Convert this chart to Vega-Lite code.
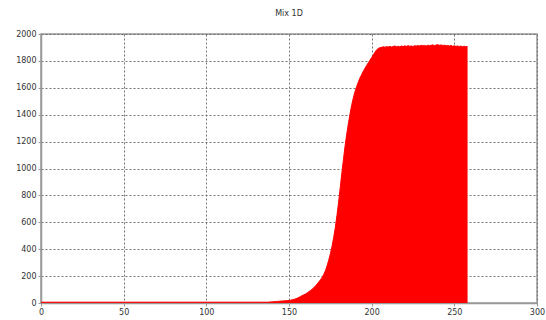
{
  "$schema": "https://vega.github.io/schema/vega-lite/v6.json",
  "autosize": {"type": "none"},
  "padding": {"left": 41, "top": 34, "right": 9, "bottom": 17},
  "width": 496,
  "height": 269,
  "background": "white",
  "title": {
    "text": "Mix 1D",
    "font": "DejaVu Sans",
    "fontSize": 8,
    "fontWeight": "normal",
    "color": "#333333",
    "anchor": "middle",
    "offset": 12
  },
  "config": {
    "view": {"stroke": "#999999", "strokeWidth": 1.5},
    "axis": {
      "labelFont": "DejaVu Sans",
      "labelFontSize": 8,
      "labelColor": "#333333",
      "domainColor": "#999999",
      "domainWidth": 1.5,
      "tickColor": "#999999",
      "tickSize": 3,
      "gridColor": "#666666",
      "gridDash": [2, 2],
      "gridWidth": 1,
      "gridOpacity": 0.9,
      "title": null
    }
  },
  "data": {
    "values": [
      {"t": 0, "v": 6}, {"t": 5, "v": 6}, {"t": 10, "v": 6}, {"t": 15, "v": 6}, {"t": 20, "v": 6},
      {"t": 25, "v": 6}, {"t": 30, "v": 6}, {"t": 35, "v": 6}, {"t": 40, "v": 6}, {"t": 45, "v": 6},
      {"t": 50, "v": 6}, {"t": 55, "v": 6}, {"t": 60, "v": 6}, {"t": 65, "v": 6}, {"t": 70, "v": 6},
      {"t": 75, "v": 6}, {"t": 80, "v": 6}, {"t": 85, "v": 6}, {"t": 90, "v": 6}, {"t": 95, "v": 6},
      {"t": 100, "v": 6}, {"t": 105, "v": 6}, {"t": 110, "v": 6}, {"t": 115, "v": 6}, {"t": 120, "v": 6},
      {"t": 125, "v": 6}, {"t": 130, "v": 6}, {"t": 135, "v": 6},
      {"t": 136, "v": 6}, {"t": 137, "v": 6}, {"t": 138, "v": 7}, {"t": 139, "v": 8},
      {"t": 140, "v": 9}, {"t": 141, "v": 10}, {"t": 142, "v": 11}, {"t": 143, "v": 12},
      {"t": 144, "v": 13}, {"t": 145, "v": 14}, {"t": 146, "v": 15}, {"t": 147, "v": 16},
      {"t": 148, "v": 17}, {"t": 149, "v": 18}, {"t": 150, "v": 19}, {"t": 151, "v": 21},
      {"t": 152, "v": 24}, {"t": 153, "v": 27}, {"t": 154, "v": 31}, {"t": 155, "v": 36},
      {"t": 156, "v": 42}, {"t": 157, "v": 49}, {"t": 158, "v": 55}, {"t": 159, "v": 61},
      {"t": 160, "v": 67}, {"t": 161, "v": 75}, {"t": 162, "v": 84}, {"t": 163, "v": 93},
      {"t": 164, "v": 103}, {"t": 165, "v": 114}, {"t": 166, "v": 127}, {"t": 167, "v": 141},
      {"t": 168, "v": 156}, {"t": 169, "v": 172}, {"t": 170, "v": 190}, {"t": 171, "v": 212},
      {"t": 172, "v": 240}, {"t": 173, "v": 275}, {"t": 174, "v": 318}, {"t": 175, "v": 365},
      {"t": 176, "v": 420}, {"t": 177, "v": 485}, {"t": 178, "v": 560}, {"t": 179, "v": 650},
      {"t": 180, "v": 750}, {"t": 181, "v": 860}, {"t": 182, "v": 970}, {"t": 183, "v": 1075},
      {"t": 184, "v": 1175}, {"t": 185, "v": 1262}, {"t": 186, "v": 1340}, {"t": 187, "v": 1412},
      {"t": 188, "v": 1476}, {"t": 189, "v": 1530}, {"t": 190, "v": 1575}, {"t": 191, "v": 1612},
      {"t": 192, "v": 1645}, {"t": 193, "v": 1675}, {"t": 194, "v": 1700}, {"t": 195, "v": 1724},
      {"t": 196, "v": 1746}, {"t": 197, "v": 1767}, {"t": 198, "v": 1787}, {"t": 199, "v": 1806},
      {"t": 200, "v": 1825}, {"t": 201, "v": 1845}, {"t": 202, "v": 1865}, {"t": 203, "v": 1882},
      {"t": 204, "v": 1893}, {"t": 205, "v": 1898}, {"t": 206, "v": 1901}, {"t": 207, "v": 1905},
      {"t": 208, "v": 1902}, {"t": 209, "v": 1906}, {"t": 210, "v": 1904}, {"t": 211, "v": 1908},
      {"t": 212, "v": 1903}, {"t": 213, "v": 1907}, {"t": 214, "v": 1911}, {"t": 215, "v": 1906},
      {"t": 216, "v": 1909}, {"t": 217, "v": 1905}, {"t": 218, "v": 1910}, {"t": 219, "v": 1907},
      {"t": 220, "v": 1912}, {"t": 221, "v": 1908}, {"t": 222, "v": 1913}, {"t": 223, "v": 1909},
      {"t": 224, "v": 1911}, {"t": 225, "v": 1907}, {"t": 226, "v": 1913}, {"t": 227, "v": 1910},
      {"t": 228, "v": 1914}, {"t": 229, "v": 1911}, {"t": 230, "v": 1916}, {"t": 231, "v": 1912},
      {"t": 232, "v": 1915}, {"t": 233, "v": 1910}, {"t": 234, "v": 1917}, {"t": 235, "v": 1913},
      {"t": 236, "v": 1916}, {"t": 237, "v": 1919}, {"t": 238, "v": 1914}, {"t": 239, "v": 1918},
      {"t": 240, "v": 1921}, {"t": 241, "v": 1916}, {"t": 242, "v": 1919}, {"t": 243, "v": 1914},
      {"t": 244, "v": 1917}, {"t": 245, "v": 1912}, {"t": 246, "v": 1915}, {"t": 247, "v": 1911},
      {"t": 248, "v": 1914}, {"t": 249, "v": 1909}, {"t": 250, "v": 1912}, {"t": 251, "v": 1908},
      {"t": 252, "v": 1911}, {"t": 253, "v": 1907}, {"t": 254, "v": 1910}, {"t": 255, "v": 1906},
      {"t": 256, "v": 1909}, {"t": 257, "v": 1905}, {"t": 258, "v": 1907}
    ]
  },
  "mark": {"type": "area", "color": "#ff0000", "opacity": 1, "line": {"color": "#ff0000", "strokeWidth": 1}},
  "encoding": {
    "x": {
      "field": "t",
      "type": "quantitative",
      "scale": {"domain": [0, 300], "nice": false},
      "axis": {"values": [0, 50, 100, 150, 200, 250, 300], "format": "d", "labelFlush": false, "labelPadding": 2}
    },
    "y": {
      "field": "v",
      "type": "quantitative",
      "scale": {"domain": [0, 2000], "nice": false},
      "axis": {"values": [0, 200, 400, 600, 800, 1000, 1200, 1400, 1600, 1800, 2000], "format": "d", "labelPadding": 2}
    }
  }
}
